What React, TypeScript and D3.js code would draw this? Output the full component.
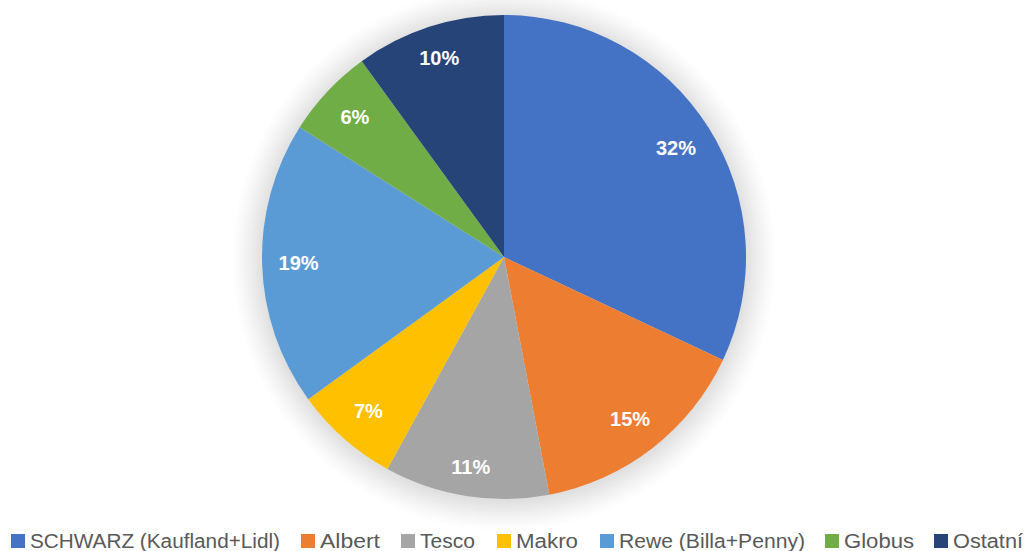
import React from "react";
import * as d3 from "d3";

const categories = [
  "SCHWARZ (Kaufland+Lidl)",
  "Albert",
  "Tesco",
  "Makro",
  "Rewe (Billa+Penny)",
  "Globus",
  "Ostatní",
];
const values = [32, 15, 11, 7, 19, 6, 10];
const colors = ["#4472C4", "#ED7D31", "#A5A5A5", "#FFC000", "#5B9BD5", "#70AD47", "#264478"];
const legendX = [11, 301, 401, 497, 600, 825, 934];
const legendTextW = [250, 60, 55, 62, 186, 70, 70];

const W = 1027;
const H = 551;
const cx = 504;
const cy = 257;
const R = 242;
const G = 32;

export default function App() {
  const pie = d3.pie<number>().sort(null).value((d) => d)(values);
  const arc = d3.arc<d3.PieArcDatum<number>>().innerRadius(0).outerRadius(R);
  const total = d3.sum(values);
  const hw = 20;
  const hh = 10;
  const fitDist = 226;
  const labelPos = (p: d3.PieArcDatum<number>) => {
    const a = (p.startAngle + p.endAngle) / 2;
    const ux = Math.sin(a);
    const uy = -Math.cos(a);
    const sx = Math.sign(ux) * hw;
    const sy = Math.sign(uy) * hh;
    const b = ux * sx + uy * sy;
    const c = sx * sx + sy * sy - fitDist * fitDist;
    const r = -b + Math.sqrt(b * b - c);
    return [r * ux, r * uy];
  };
  const rings = d3.range(G, 0, -1);
  return (
    <svg
      width={W}
      height={H}
      style={{ position: "fixed", top: 0, left: 0, background: "#fff" }}
      fontFamily="'Liberation Sans', Arial, sans-serif"
    >
      <g transform={`translate(${cx},${cy})`}>
        {rings.map((d) => {
          const t = d / G;
          const v = Math.round(255 - 32 * Math.pow(1 - t, 1.3));
          return <circle key={d} r={R + d} cy={2} fill={`rgb(${v},${v},${v})`} />;
        })}
        {pie.map((p, i) => (
          <path key={i} d={arc(p) || ""} fill={colors[i]} />
        ))}
        {pie.map((p, i) => {
          const [x, y] = labelPos(p);
          return (
            <text
              key={i}
              x={x}
              y={y}
              textAnchor="middle"
              dominantBaseline="central"
              fill="#fff"
              fontWeight="bold"
              fontSize={20}
            >
              {d3.format(".0%")(values[i] / total)}
            </text>
          );
        })}
      </g>
      <g>
        {categories.map((c, i) => (
          <g key={c} transform={`translate(${legendX[i]},541)`}>
            <rect x={0} y={-7} width={14} height={14} fill={colors[i]} />
            <text
              x={19}
              y={0}
              dominantBaseline="central"
              fontSize={20}
              fill="#595959"
              textLength={legendTextW[i]}
              lengthAdjust="spacingAndGlyphs"
            >
              {c}
            </text>
          </g>
        ))}
      </g>
    </svg>
  );
}
